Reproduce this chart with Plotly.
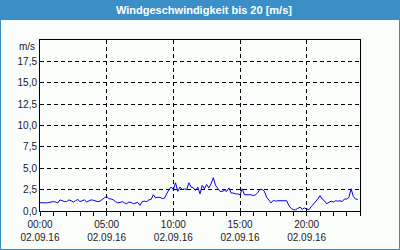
import plotly.graph_objects as go
import pandas as pd

# Wind speed in m/s, 10-minute samples, 02.09.16 00:00 .. 23:50
speed = [
    0.97, 0.95, 0.90, 0.95, 1.00, 1.05,
    1.10, 1.05, 0.95, 1.30, 1.15, 1.10,
    1.10, 1.30, 1.20, 1.05, 1.20, 1.35,
    1.10, 1.20, 1.30, 1.05, 1.15, 1.30,
    1.25, 1.15, 1.10, 1.15, 1.40, 1.55,
    1.70, 1.45, 1.40, 1.30, 1.10, 0.95,
    1.00, 1.10, 0.95, 0.85, 1.05, 1.00,
    0.85, 0.95, 1.00, 0.66, 1.10, 1.15,
    1.10, 1.30, 1.35, 1.90, 1.55, 1.60,
    1.60, 1.45, 1.50, 2.00, 2.50, 2.80,
    2.50, 3.30, 2.30, 2.80, 2.50, 2.60,
    2.50, 3.30, 2.80, 2.70, 2.40, 2.80,
    2.00, 3.00, 2.60, 3.10, 2.70, 3.20,
    3.90, 3.00, 2.70, 2.30, 2.30, 2.40,
    2.30, 2.70, 2.10, 2.10, 2.00, 2.00,
    1.90, 2.60, 1.90, 1.90, 1.90, 1.90,
    1.80, 1.90, 2.15, 2.55, 2.50, 2.30,
    1.60, 1.30, 0.95, 1.25, 1.15, 1.20,
    1.20, 1.20, 1.20, 1.20, 0.65, 0.30,
    0.15, 0.15, 0.30, 0.45, 0.20, 0.35,
    0.25, 0.15, 0.50, 0.80, 1.05, 1.40,
    1.80, 1.40, 1.20, 0.85, 1.00, 1.15,
    1.05, 1.20, 1.15, 1.20, 1.10, 1.40,
    1.40, 1.60, 2.60, 1.70, 1.40, 1.35,
]
times = pd.date_range("2016-09-02 00:00", periods=len(speed), freq="10min")

x_tickvals = ["2016-09-02 00:00", "2016-09-02 05:00", "2016-09-02 10:00",
              "2016-09-02 15:00", "2016-09-02 20:00"]
x_ticktext = ["00:00<br>02.09.16", "05:00<br>02.09.16", "10:00<br>02.09.16",
              "15:00<br>02.09.16", "20:00<br>02.09.16"]
y_tickvals = [0, 2.5, 5, 7.5, 10, 12.5, 15, 17.5]
y_ticktext = ["0,0", "2,5", "5,0", "7,5", "10,0", "12,5", "15,0", "17,5"]

title = "Windgeschwindigkeit bis 20 [m/s]"
unit = "m/s"

W, H = 400, 250
L, R, T, B = 40, 40, 40, 39
pw, ph = W - L - R, H - T - B
def px(x): return (x - L) / pw
def py(y): return (H - B - y) / ph

blue = "#3b8fc7"
bg = "#fbfdfb"
font = "Liberation Sans"

fig = go.Figure()
fig.add_trace(go.Scatter(x=times, y=speed, mode="lines",
                         line=dict(color="#0000ee", width=1), hoverinfo="skip"))

fig.update_layout(
    width=W, height=H,
    margin=dict(l=L, r=R, t=T, b=B, pad=0, autoexpand=False),
    paper_bgcolor=bg, plot_bgcolor=bg,
    showlegend=False,
    font=dict(family=font, size=10, color="#1a1a2a"),
    xaxis=dict(
        range=["2016-09-02 00:00", "2016-09-03 00:00"],
        tickvals=x_tickvals, ticktext=x_ticktext, automargin=False,
        showgrid=True, gridcolor="black", gridwidth=1, griddash="4px,3px",
        showline=True, linecolor="black", linewidth=1, mirror=True,
        ticks="outside", ticklen=4, tickcolor="black", tickwidth=1,
        minor=dict(dtick=3600000, ticks="outside", ticklen=4,
                   tickcolor="black", showgrid=False),
        zeroline=False, fixedrange=True,
    ),
    yaxis=dict(
        range=[0, 20], automargin=False,
        tickvals=y_tickvals, ticktext=y_ticktext,
        showgrid=True, gridcolor="black", gridwidth=1, griddash="4px,3px",
        showline=True, linecolor="black", linewidth=1, mirror=True,
        ticks="", zeroline=False, fixedrange=True,
    ),
    shapes=[
        dict(type="rect", xref="paper", yref="paper",
             x0=px(0), x1=px(W), y0=py(20), y1=py(0),
             fillcolor=blue, line=dict(width=0), layer="above"),
        dict(type="rect", xref="paper", yref="paper",
             x0=px(0.5), x1=px(W - 0.5), y0=py(H - 0.5), y1=py(0.5),
             line=dict(color=blue, width=1), fillcolor="rgba(0,0,0,0)", layer="above"),
    ],
    annotations=[
        dict(text=title, xref="paper", yref="paper", x=px(204), y=py(10),
             xanchor="center", yanchor="middle", showarrow=False,
             font=dict(family=font, size=11, color="white", weight="bold")),
        dict(text=unit, xref="paper", yref="paper", x=px(37), y=py(46),
             xanchor="right", yanchor="middle", showarrow=False,
             font=dict(family=font, size=10, color="#1a1a2a")),
    ],
)

fig.write_html("out.html", config={"displayModeBar": False})
